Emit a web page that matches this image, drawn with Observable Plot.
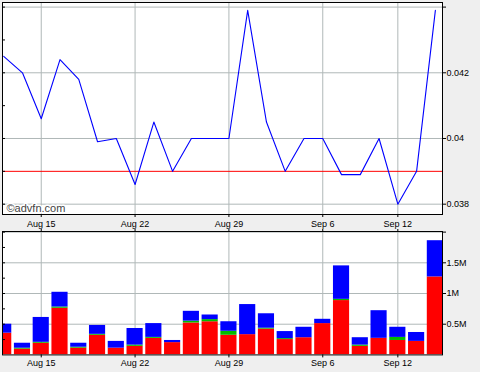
<!DOCTYPE html>
<html><head><meta charset="utf-8">
<script src="https://cdn.jsdelivr.net/npm/d3@7"></script>
<script src="https://cdn.jsdelivr.net/npm/@observablehq/plot@0.6"></script>
<style>
html,body{margin:0;padding:0;background:#efefef;}
#chart{width:480px;height:372px;position:relative;overflow:hidden;background:#efefef;}
#chart svg{position:absolute;left:0;overflow:visible;}
</style></head><body><div id="chart"></div>
<script>
const dates = ["2011-08-11","2011-08-12","2011-08-15","2011-08-16","2011-08-17","2011-08-18","2011-08-19",
  "2011-08-22","2011-08-23","2011-08-24","2011-08-25","2011-08-26","2011-08-29","2011-08-30","2011-08-31",
  "2011-09-01","2011-09-02","2011-09-06","2011-09-07","2011-09-08","2011-09-09","2011-09-12","2011-09-13","2011-09-14"];
const price = [0.0425,0.042,0.0406,0.0424,0.0418,0.0399,0.04,0.0386,0.0405,0.039,0.04,0.04,0.04,0.0439,0.0405,
  0.039,0.04,0.04,0.0389,0.0389,0.04,0.038,0.039,0.0439];
const prevClose = [0.039];
const volRed = [354000,94000,190000,760000,110000,320000,110000,140000,270000,200000,520000,540000,320000,330000,
  420000,250000,280000,510000,885000,140000,270000,235000,220000,1270000];
const volGreen = [0,15000,15000,20000,15000,15000,0,20000,15000,0,30000,35000,65000,0,15000,15000,0,0,20000,20000,
  0,50000,0,0];
const volBlue = [146000,81000,405000,240000,65000,145000,110000,270000,225000,35000,160000,75000,155000,490000,
  235000,115000,170000,70000,545000,120000,450000,165000,145000,590000];
const dateTickDates = ["2011-08-15","2011-08-22","2011-08-29","2011-09-06","2011-09-12"];
const dateTickLabels = ["Aug 15","Aug 22","Aug 29","Sep 6","Sep 12"];
const priceTicks = [0.038,0.04,0.042,0.044];
const priceTickLabels = ["0.038","0.04","0.042",""];
const priceMinor = [0.038,0.039,0.04,0.041,0.042,0.043,0.044];
const volTicks = [500000,1000000,1500000,2000000];
const volTickLabels = ["0.5M","1M","1.5M",""];
const volMinor = [250000,500000,750000,1000000,1250000,1500000,1750000,2000000];
const copyright = "©advfn.com";

const FONT = '"Liberation Sans", Arial, sans-serif';
const GRID = "#b0b8b8";
const xDomain = [-0.064, 23.38];
const tickIdx = dateTickDates.map(d => dates.indexOf(d));
const dateFmt = i => dateTickLabels[tickIdx.indexOf(i)];

const priceData = price.map((p, i) => ({i, p}));
const segs = [];
dates.forEach((d, i) => {
  const r = volRed[i], g = volGreen[i], b = volBlue[i];
  if (r > 0) segs.push({i, y1: 0, y2: r, c: "#ff0000"});
  if (g > 0) segs.push({i, y1: r, y2: r + g, c: "#00bb00"});
  if (b > 0) segs.push({i, y1: r + g, y2: r + g + b, c: "#0000ff"});
});

const topPlot = Plot.plot({
  width: 480, height: 230,
  marginTop: 2, marginLeft: 2, marginRight: 38, marginBottom: 16,
  style: {background: "transparent", fontFamily: FONT, fontSize: "9px", color: "#000", overflow: "visible"},
  x: {type: "linear", domain: xDomain},
  y: {domain: [0.037686, 0.04414]},
  marks: [
    Plot.frame({fill: "white", stroke: null}),
    Plot.ruleY(priceTicks, {stroke: GRID}),
    Plot.ruleX(tickIdx, {stroke: GRID}),
    Plot.ruleY(prevClose, {stroke: "#ff0000"}),
    Plot.line(priceData, {x: "i", y: "p", stroke: "#0000ff", strokeWidth: 1.1, clip: true}),
    Plot.ruleY(priceMinor, {x1: xDomain[0], x2: xDomain[0] + 0.16, stroke: "#000"}),
    Plot.text([copyright], {frameAnchor: "bottom-left", dx: 4, dy: -3, textAnchor: "start", lineAnchor: "bottom",
      fill: "#444", stroke: "white", strokeWidth: 3, fontSize: 11}),
    Plot.axisY({anchor: "right", ticks: priceTicks, tickFormat: d => priceTickLabels[priceTicks.indexOf(d)],
      tickSize: 3, tickPadding: 1, label: null}),
    Plot.axisX({anchor: "bottom", ticks: tickIdx, tickFormat: dateFmt, tickSize: 3, tickPadding: 3.6, label: null}),
    Plot.frame({stroke: "#000"})
  ]
});
topPlot.style.top = "0px";

const botPlot = Plot.plot({
  width: 480, height: 142,
  marginTop: 1, marginLeft: 2, marginRight: 38, marginBottom: 17.6,
  style: {background: "transparent", fontFamily: FONT, fontSize: "9px", color: "#000", overflow: "visible"},
  x: {type: "linear", domain: xDomain},
  y: {domain: [0, 2010000]},
  marks: [
    Plot.frame({fill: "white", stroke: null}),
    Plot.ruleY(volTicks, {stroke: GRID}),
    Plot.ruleX(tickIdx, {stroke: GRID}),
    Plot.rect(segs, {x1: d => d.i - 0.43, x2: d => d.i + 0.43, y1: "y1", y2: "y2", fill: "c", clip: true}),
    Plot.ruleY(volMinor, {x1: xDomain[0], x2: xDomain[0] + 0.16, stroke: "#000"}),
    Plot.axisY({anchor: "right", ticks: volTicks, tickFormat: d => volTickLabels[volTicks.indexOf(d)],
      tickSize: 3, tickPadding: 1, label: null}),
    Plot.axisX({anchor: "bottom", ticks: tickIdx, tickFormat: dateFmt, tickSize: 3, tickPadding: 1.6, label: null}),
    Plot.axisX({anchor: "top", ticks: tickIdx, tickFormat: () => "", tickSize: 3, label: null}),
    Plot.frame({stroke: "#000"})
  ]
});
botPlot.style.top = "230px";

const chart = document.getElementById("chart");
chart.appendChild(topPlot);
chart.appendChild(botPlot);
</script>
</body></html>
